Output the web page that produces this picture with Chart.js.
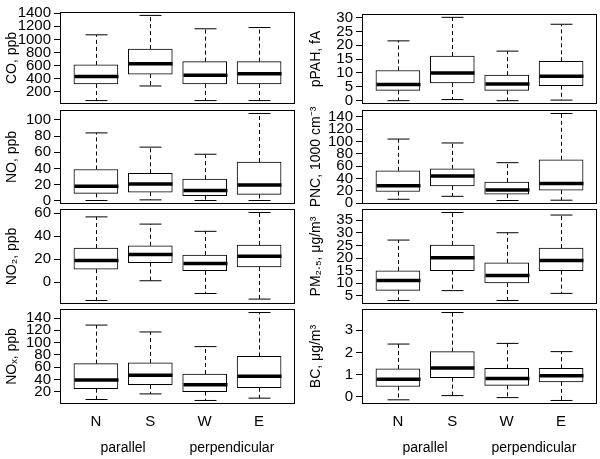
<!DOCTYPE html>
<html>
<head>
<meta charset="utf-8">
<script src="https://cdn.jsdelivr.net/npm/chart.js@4.4.0/dist/chart.umd.min.js"></script>
<style>
  body { margin: 0; background: #fff; }
  #wrap { position: relative; width: 600px; height: 459px; overflow: hidden; }
  #wrap canvas { position: absolute; }
</style>
</head>
<body>
<div id="wrap"></div>
<script>
// categories
const categories = ['N', 'S', 'W', 'E'];
const groups = ['parallel', 'perpendicular'];

// box stats: whisker low, Q1, median, Q3, whisker high
const coLow  = [67, 290, 67, 67];
const coQ1   = [320, 471, 322, 320];
const coMed  = [435, 627, 455, 475];
const coQ3   = [612, 851, 661, 661];
const coHigh = [1070, 1366, 1162, 1181];

const noLow  = [0.4, 1.2, 0.4, 0.4];
const noQ1   = [9.2, 10.8, 6.4, 8];
const noMed  = [18, 20.8, 12.8, 19.5];
const noQ3   = [38.8, 34, 26.8, 48];
const noHigh = [84, 66.4, 57.6, 108];

const no2Low  = [-16.1, 1.1, -10, -14.9];
const no2Q1   = [11.2, 16.9, 9.8, 13.2];
const no2Med  = [18.7, 24.1, 16.1, 22.4];
const no2Q3   = [29.6, 31.6, 23.5, 32.2];
const no2High = [56.8, 50.5, 44.2, 60.6];

const noxLow  = [7.2, 16.3, 5.6, 9.4];
const noxQ1   = [24.8, 31.2, 20, 26.4];
const noxMed  = [39.1, 46.6, 31.2, 45];
const noxQ3   = [65.7, 66.8, 48.7, 77.4];
const noxHigh = [128.5, 117.3, 93.4, 149];

const pahLow  = [0, 0.4, 0, 0.2];
const pahQ1   = [3.7, 6.4, 3.7, 5.4];
const pahMed  = [5.8, 10, 6, 8.8];
const pahQ3   = [10.9, 16.1, 9.2, 14.2];
const pahHigh = [21.6, 30.1, 17.9, 27.6];

const pncLow  = [6.5, 11.3, 4.5, 5];
const pncQ1   = [19.1, 28, 14.9, 21.2];
const pncMed  = [28.5, 44.2, 21.7, 32.2];
const pncQ3   = [52.6, 55.8, 34.3, 70.4];
const pncHigh = [103.9, 97.6, 65.7, 145.3];

const pmLow  = [3.2, 7.1, 3.2, 6];
const pmQ1   = [7.2, 15, 10.1, 15];
const pmMed  = [11.1, 20.1, 13.1, 19];
const pmQ3   = [14.9, 25.1, 18.1, 23.9];
const pmHigh = [27.1, 38, 30, 37];

const bcLow  = [-0.13, 0.06, -0.03, -0.16];
const bcQ1   = [0.47, 0.87, 0.52, 0.68];
const bcMed  = [0.8, 1.3, 0.83, 0.95];
const bcQ3   = [1.26, 2.04, 1.29, 1.29];
const bcHigh = [2.38, 3.8, 2.41, 2.04];

// tick labels
const coTicks  = [200, 400, 600, 800, 1000, 1200, 1400];
const noTicks  = [0, 20, 40, 60, 80, 100];
const no2Ticks = [0, 20, 40, 60];
const noxTicks = [20, 40, 60, 80, 100, 120, 140];
const pahTicks = [0, 5, 10, 15, 20, 25, 30];
const pncTicks = [0, 20, 40, 60, 80, 100, 120, 140];
const pmTicks  = [5, 10, 15, 20, 25, 30, 35];
const bcTicks  = [0, 1, 2, 3];

Chart.defaults.font.family = "'Liberation Sans', Arial, sans-serif";
Chart.defaults.color = '#000';

// panels: column, row, title, stats, ticks
const panels = [
  { col: 0, row: 0, title: 'CO, ppb', s: [coLow, coQ1, coMed, coQ3, coHigh], ticks: coTicks },
  { col: 0, row: 1, title: 'NO, ppb', s: [noLow, noQ1, noMed, noQ3, noHigh], ticks: noTicks },
  { col: 0, row: 2, title: 'NO\u2082, ppb', s: [no2Low, no2Q1, no2Med, no2Q3, no2High], ticks: no2Ticks },
  { col: 0, row: 3, title: 'NO\u2093, ppb', s: [noxLow, noxQ1, noxMed, noxQ3, noxHigh], ticks: noxTicks },
  { col: 1, row: 0, title: 'pPAH, fA', s: [pahLow, pahQ1, pahMed, pahQ3, pahHigh], ticks: pahTicks },
  { col: 1, row: 1, title: 'PNC, 1000 cm\u207B\u00B3', s: [pncLow, pncQ1, pncMed, pncQ3, pncHigh], ticks: pncTicks },
  { col: 1, row: 2, title: 'PM\u2082.\u2085, \u03BCg/m\u00B3', s: [pmLow, pmQ1, pmMed, pmQ3, pmHigh], ticks: pmTicks },
  { col: 1, row: 3, title: 'BC, \u03BCg/m\u00B3', s: [bcLow, bcQ1, bcMed, bcQ3, bcHigh], ticks: bcTicks }
];

// frame top/bottom of each row in the picture
const frameRows = [[[11, 105], [109, 205], [208, 305], [308, 404]],
                   [[13, 105], [109, 205], [208, 305], [308, 404]]];

// whiskers, caps, medians and the box frame
const boxParts = {
  id: 'boxParts',
  afterDatasetsDraw(chart) {
    const ds = chart.data.datasets[0];
    const xs = chart.scales.x, ys = chart.scales.y;
    const ctx = chart.ctx;
    const half = ds.barThickness / 2;
    const line = (x1, y1, x2, y2) => { ctx.beginPath(); ctx.moveTo(x1, y1); ctx.lineTo(x2, y2); ctx.stroke(); };
    ctx.save();
    ctx.strokeStyle = '#000';
    ds.meds.forEach((m, i) => {
      const x = Math.round(xs.getPixelForValue(i + 1)) + 0.5;
      const yLo = ys.getPixelForValue(ds.lows[i]);
      const yHi = ys.getPixelForValue(ds.highs[i]);
      const yQ1 = ys.getPixelForValue(ds.q1s[i]);
      const yQ3 = ys.getPixelForValue(ds.q3s[i]);
      const yMed = ys.getPixelForValue(m);
      ctx.lineWidth = 1;
      ctx.setLineDash([4, 3]);
      line(x, yQ3, x, yHi);
      line(x, yQ1, x, yLo);
      ctx.setLineDash([]);
      line(x - half / 2, yHi, x + half / 2, yHi);
      line(x - half / 2, yLo, x + half / 2, yLo);
      ctx.lineWidth = 3.5;
      line(x - half, yMed, x + half, yMed);
    });
    const a = chart.chartArea;
    ctx.lineWidth = 1;
    ctx.strokeRect(a.left + 0.5, a.top + 0.5, a.width - 1, a.height - 1);
    ctx.restore();
  }
};

const wrap = document.getElementById('wrap');

panels.forEach(p => {
  const [top, bottom] = frameRows[p.col][p.row];
  const lastRow = p.row === 3;
  const cTop = top - 11;
  const cHeight = lastRow ? 459 - cTop : bottom - top + 22;
  const canvas = document.createElement('canvas');
  canvas.width = 300;
  canvas.height = cHeight;
  canvas.style.left = (p.col * 300) + 'px';
  canvas.style.top = cTop + 'px';
  wrap.appendChild(canvas);

  const [lo, q1, med, q3, hi] = p.s;
  const dMin = Math.min(...lo), dMax = Math.max(...hi);
  const ext = (dMax - dMin) * 0.04;

  new Chart(canvas, {
    type: 'bar',
    data: {
      datasets: [{
        data: categories.map((c, i) => ({ x: i + 1, y: [q1[i], q3[i]] })),
        backgroundColor: '#fff',
        borderColor: '#000',
        borderWidth: 1,
        borderSkipped: false,
        barThickness: 44,
        lows: lo, q1s: q1, meds: med, q3s: q3, highs: hi
      }]
    },
    options: {
      responsive: false,
      animation: false,
      layout: { padding: { top: 11, bottom: lastRow ? 0 : 11, left: 0, right: p.col === 0 ? 5 : 3 } },
      plugins: { legend: { display: false }, tooltip: { enabled: false } },
      scales: {
        x: {
          type: 'linear',
          offset: false,
          min: 0.34, max: 4.66,
          display: lastRow,
          afterBuildTicks: s => { s.ticks = categories.map((c, i) => ({ value: i + 1 })); },
          ticks: { callback: (v, i) => categories[i], autoSkip: false, maxRotation: 0, font: { size: 15 }, padding: 9 },
          grid: { display: false, drawTicks: false },
          border: { display: false },
          afterFit: s => { if (lastRow) s.height = 30; }
        },
        x2: {
          type: 'linear',
          position: 'bottom',
          offset: false,
          weight: 1,
          min: 0.34, max: 4.66,
          display: lastRow,
          afterBuildTicks: s => { s.ticks = [{ value: 1.5 }, { value: 3.5 }]; },
          ticks: { callback: (v, i) => groups[i], autoSkip: false, maxRotation: 0, font: { size: 14 }, padding: 6 },
          grid: { display: false, drawTicks: false },
          border: { display: false },
          afterFit: s => { if (lastRow) s.height = 25; }
        },
        y: {
          min: dMin - ext, max: dMax + ext,
          afterBuildTicks: s => { s.ticks = p.ticks.map(v => ({ value: v })); },
          ticks: { callback: v => String(v), autoSkip: false, font: { size: 15 }, padding: 3 },
          grid: { drawOnChartArea: false, drawTicks: true, tickLength: 6, color: '#000' },
          border: { display: false },
          title: { display: true, text: p.title, font: { size: 14 }, padding: { top: p.col === 0 ? 4 : 8, bottom: 0 } },
          afterFit: s => { s.width = p.col === 0 ? 60 : 62; }
        }
      }
    },
    plugins: [boxParts]
  });
});
</script>
</body>
</html>
